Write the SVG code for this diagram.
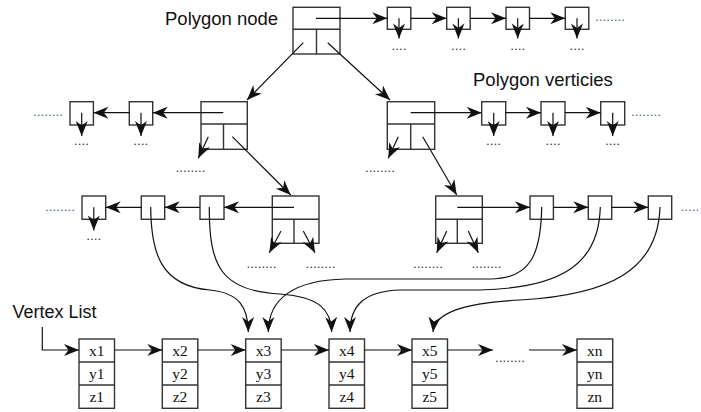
<svg xmlns="http://www.w3.org/2000/svg" width="701" height="412" viewBox="0 0 701 412">
<defs>
<marker id="ah" markerUnits="userSpaceOnUse" markerWidth="16" markerHeight="13" refX="15" refY="6.5" orient="auto" overflow="visible">
<path d="M0,0.5 L15,6.5 L0,12.5 L4.5,6.5 Z" fill="#111"/>
</marker>
<style>
.bx{fill:#fff;stroke:#333;stroke-width:1.4}
.ln{fill:none;stroke:#333;stroke-width:1.4}
.ar{fill:none;stroke:#111;stroke-width:1.2;marker-end:url(#ah)}
.lbl{font-family:"Liberation Sans",Arial,sans-serif;font-size:18.5px;fill:#111}
.dt{font-family:"Liberation Sans",Arial,sans-serif;font-size:13.5px;fill:#333}
.db{font-family:"Liberation Sans",Arial,sans-serif;font-size:13.5px;fill:#4a6590}
.vt{font-family:"Liberation Serif","Times New Roman",serif;font-size:15.5px;fill:#111;text-anchor:middle}
</style>
</defs>
<rect width="701" height="412" fill="#fff"/>

<g id="labels">
<text class="lbl" x="165" y="25">Polygon node</text>
<text class="lbl" x="473" y="86">Polygon verticies</text>
<text class="lbl" x="12.5" y="317.5" style="font-size:18px">Vertex List</text>
</g>

<g id="node-top">
<rect class="bx" x="293" y="7.3" width="47" height="46.7"/>
<line class="ln" x1="293" y1="29.3" x2="340" y2="29.3"/>
<line class="ln" x1="316.5" y1="29.3" x2="316.5" y2="54"/>
</g>
<g id="top-verts">
<rect class="bx" x="387.3" y="7.3" width="23.5" height="22"/>
<rect class="bx" x="446.7" y="7.3" width="23.5" height="22"/>
<rect class="bx" x="506" y="7.3" width="23.5" height="22"/>
<rect class="bx" x="565.3" y="7.3" width="23.5" height="22"/>
<text class="dt" x="391.5" y="49.5">....</text>
<text class="dt" x="450.9" y="49.5">....</text>
<text class="dt" x="510.2" y="49.5">....</text>
<text class="dt" x="569.5" y="49.5">....</text>
<text class="db" x="595" y="21">........</text>
</g>

<g id="node-l2-left">
<rect class="bx" x="201" y="101.7" width="46.3" height="47.6"/>
<line class="ln" x1="201" y1="124" x2="247.3" y2="124"/>
<line class="ln" x1="223.5" y1="124" x2="223.5" y2="149.3"/>
</g>
<g id="l2-left-verts">
<rect class="bx" x="129.3" y="101.7" width="23.4" height="23.3"/>
<rect class="bx" x="70" y="101.7" width="23.4" height="23.3"/>
<text class="dt" x="133.2" y="144.5">....</text>
<text class="dt" x="73.9" y="144.5">....</text>
<text class="db" x="33" y="116">........</text>
<text class="dt" x="175.5" y="172">........</text>
</g>

<g id="node-l2-right">
<rect class="bx" x="387.3" y="101.7" width="47.4" height="47.6"/>
<line class="ln" x1="387.3" y1="124" x2="434.7" y2="124"/>
<line class="ln" x1="410.7" y1="124" x2="410.7" y2="149.3"/>
</g>
<g id="l2-right-verts">
<rect class="bx" x="481.7" y="101.7" width="24" height="23.3"/>
<rect class="bx" x="541" y="101.7" width="24" height="23.3"/>
<rect class="bx" x="600.7" y="101.7" width="24" height="23.3"/>
<text class="dt" x="486.1" y="144.5">....</text>
<text class="dt" x="545.4" y="144.5">....</text>
<text class="dt" x="605.1" y="144.5">....</text>
<text class="db" x="631" y="116">........</text>
<text class="dt" x="365" y="172">........</text>
</g>

<g id="node-l3-left">
<rect class="bx" x="272.3" y="196" width="46.7" height="47.3"/>
<line class="ln" x1="272.3" y1="219.3" x2="319" y2="219.3"/>
<line class="ln" x1="294" y1="219.3" x2="294" y2="243.3"/>
</g>
<g id="l3-left-verts">
<rect class="bx" x="200" y="196" width="24" height="23.3"/>
<rect class="bx" x="141.3" y="196" width="23.4" height="23.3"/>
<rect class="bx" x="82" y="196" width="23.7" height="23.3"/>
<text class="dt" x="86.3" y="240">....</text>
<text class="db" x="45" y="211">........</text>
<text class="dt" x="246.5" y="268">........</text>
<text class="dt" x="305.5" y="268">........</text>
</g>

<g id="node-l3-right">
<rect class="bx" x="435.7" y="196" width="46.6" height="47.3"/>
<line class="ln" x1="435.7" y1="219.3" x2="482.3" y2="219.3"/>
<line class="ln" x1="457.3" y1="219.3" x2="457.3" y2="243.3"/>
</g>
<g id="l3-right-verts">
<rect class="bx" x="530" y="196" width="23.4" height="23.3"/>
<rect class="bx" x="588.3" y="196" width="23.4" height="23.3"/>
<rect class="bx" x="648.3" y="196" width="23.4" height="23.3"/>
<text class="db" x="680.5" y="211">.....</text>
<text class="dt" x="413" y="268">........</text>
<text class="dt" x="471.5" y="268">........</text>
</g>

<g id="v1"><rect class="bx" x="79" y="339" width="35.5" height="69.3"/><line class="ln" x1="79" y1="362" x2="114.5" y2="362"/><line class="ln" x1="79" y1="385" x2="114.5" y2="385"/>
<text class="vt" x="96.7" y="355.5">x1</text><text class="vt" x="96.7" y="378.5">y1</text><text class="vt" x="96.7" y="401.5">z1</text></g>
<g id="v2"><rect class="bx" x="162.3" y="339" width="35.5" height="69.3"/><line class="ln" x1="162.3" y1="362" x2="197.8" y2="362"/><line class="ln" x1="162.3" y1="385" x2="197.8" y2="385"/>
<text class="vt" x="180" y="355.5">x2</text><text class="vt" x="180" y="378.5">y2</text><text class="vt" x="180" y="401.5">z2</text></g>
<g id="v3"><rect class="bx" x="245.7" y="339" width="35.5" height="69.3"/><line class="ln" x1="245.7" y1="362" x2="281.2" y2="362"/><line class="ln" x1="245.7" y1="385" x2="281.2" y2="385"/>
<text class="vt" x="263.4" y="355.5">x3</text><text class="vt" x="263.4" y="378.5">y3</text><text class="vt" x="263.4" y="401.5">z3</text></g>
<g id="v4"><rect class="bx" x="329" y="339" width="35.5" height="69.3"/><line class="ln" x1="329" y1="362" x2="364.5" y2="362"/><line class="ln" x1="329" y1="385" x2="364.5" y2="385"/>
<text class="vt" x="346.7" y="355.5">x4</text><text class="vt" x="346.7" y="378.5">y4</text><text class="vt" x="346.7" y="401.5">z4</text></g>
<g id="v5"><rect class="bx" x="412" y="339" width="35.5" height="69.3"/><line class="ln" x1="412" y1="362" x2="447.5" y2="362"/><line class="ln" x1="412" y1="385" x2="447.5" y2="385"/>
<text class="vt" x="429.7" y="355.5">x5</text><text class="vt" x="429.7" y="378.5">y5</text><text class="vt" x="429.7" y="401.5">z5</text></g>
<g id="vn"><rect class="bx" x="577" y="339" width="35.7" height="69.3"/><line class="ln" x1="577" y1="362" x2="612.7" y2="362"/><line class="ln" x1="577" y1="385" x2="612.7" y2="385"/>
<text class="vt" x="594.8" y="355.5">xn</text><text class="vt" x="594.8" y="378.5">yn</text><text class="vt" x="594.8" y="401.5">zn</text></g>
<g id="vdots"><text class="dt" x="495" y="362">........</text></g>

<g id="connectors">
<line class="ar" x1="316" y1="18.3" x2="387.3" y2="18.3"/>
<line class="ar" x1="410.8" y1="18.3" x2="446.7" y2="18.3"/>
<line class="ar" x1="470.2" y1="18.3" x2="506" y2="18.3"/>
<line class="ar" x1="529.5" y1="18.3" x2="565.3" y2="18.3"/>
<line class="ar" x1="399" y1="18.3" x2="399" y2="38.5"/>
<line class="ar" x1="458.4" y1="18.3" x2="458.4" y2="38.5"/>
<line class="ar" x1="517.7" y1="18.3" x2="517.7" y2="38.5"/>
<line class="ar" x1="577" y1="18.3" x2="577" y2="38.5"/>
<line class="ar" x1="303.3" y1="42.7" x2="247" y2="100"/>
<line class="ar" x1="327.7" y1="42.7" x2="390" y2="100"/>
<line class="ar" x1="223.3" y1="112.7" x2="152.7" y2="112.7"/>
<line class="ar" x1="129.3" y1="112.7" x2="93.4" y2="112.7"/>
<line class="ar" x1="141" y1="112.7" x2="141" y2="136"/>
<line class="ar" x1="81.7" y1="112.7" x2="81.7" y2="136"/>
<line class="ar" x1="208.3" y1="136.7" x2="198.3" y2="158.3"/>
<line class="ar" x1="232.3" y1="136.7" x2="290.7" y2="195"/>
<line class="ar" x1="410.7" y1="112.7" x2="481.7" y2="112.7"/>
<line class="ar" x1="505.7" y1="112.7" x2="541" y2="112.7"/>
<line class="ar" x1="565" y1="112.7" x2="600.7" y2="112.7"/>
<line class="ar" x1="493.7" y1="112.7" x2="493.7" y2="136"/>
<line class="ar" x1="553" y1="112.7" x2="553" y2="136"/>
<line class="ar" x1="612.7" y1="112.7" x2="612.7" y2="136"/>
<line class="ar" x1="398.3" y1="136.7" x2="388.3" y2="158.3"/>
<line class="ar" x1="422.7" y1="136.7" x2="456.7" y2="195"/>
<line class="ar" x1="294" y1="207.3" x2="224" y2="207.3"/>
<line class="ar" x1="200" y1="207.3" x2="164.7" y2="207.3"/>
<line class="ar" x1="141.3" y1="207.3" x2="105.7" y2="207.3"/>
<line class="ar" x1="93.8" y1="207.3" x2="93.8" y2="230.5"/>
<line class="ar" x1="281" y1="231" x2="269.3" y2="252.7"/>
<line class="ar" x1="303.3" y1="231" x2="315" y2="252.7"/>
<line class="ar" x1="457.3" y1="207.3" x2="530" y2="207.3"/>
<line class="ar" x1="553.4" y1="207.3" x2="588.3" y2="207.3"/>
<line class="ar" x1="611.7" y1="207.3" x2="648.3" y2="207.3"/>
<line class="ar" x1="446.7" y1="231" x2="436.7" y2="252.7"/>
<line class="ar" x1="468.3" y1="231" x2="478.3" y2="252.7"/>
<path class="ar" d="M150.7,207 C151,252 160,286 210,290 C240,293 248,308 248.3,332"/>
<path class="ar" d="M209.3,207 C209,266 221,291 280,294 C320,297 331,310 331.7,332"/>
<path class="ar" d="M541.7,207 C541,255 530,279 490,279 L345,279 C295,280 268.3,298 268.3,332"/>
<path class="ar" d="M600.3,207 C599,265 560,288 480,290 L400,290 C365,291 350,305 350,332"/>
<path class="ar" d="M660,207 C658,270 610,295 520,300 C465,303 435,312 433,332"/>
<path class="ar" d="M42.3,327 V350 H79"/>
<line class="ar" x1="114.5" y1="350" x2="162.3" y2="350"/>
<line class="ar" x1="197.8" y1="350" x2="245.7" y2="350"/>
<line class="ar" x1="281.2" y1="350" x2="329" y2="350"/>
<line class="ar" x1="364.5" y1="350" x2="412" y2="350"/>
<line class="ar" x1="447.5" y1="350" x2="493" y2="350"/>
<line class="ar" x1="529" y1="350" x2="577" y2="350"/>
</g>
</svg>
